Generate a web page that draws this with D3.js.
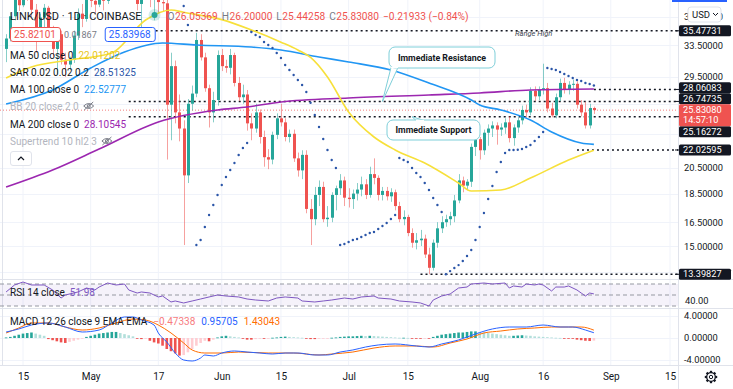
<!DOCTYPE html>
<html>
<head>
<meta charset="utf-8">
<script src="https://cdnjs.cloudflare.com/ajax/libs/d3/7.8.5/d3.min.js"></script>
<style>
  html, body { margin: 0; padding: 0; background: #fff; overflow: hidden; }
  svg { display: block; font-family: Roboto, "Noto Sans", sans-serif; }
</style>
</head>
<body>
<svg id="chart" width="733" height="389"></svg>
<script>
// LINK/USD 1D candles, first bar 2021-04-11, one bar per day
const firstBar = '2021-04-11';
const opens = [
  33.0, 34.4, 37.6, 40.8, 39.3, 43.2, 41.0, 38.6, 35.8, 37.4,
  38.9, 35.6, 33.0, 35.0, 31.6, 31.0, 31.6, 34.8, 38.0, 37.2,
  41.2, 40.0, 39.4, 44.0, 40.0, 45.5, 44.8, 46.8, 49.6, 47.0,
  46.0, 46.8, 39.5, 41.5, 44.5, 40.2, 42.0, 39.8, 39.6, 26.4,
  30.8, 25.6, 24.0, 19.9, 26.5, 27.6, 34.2, 31.9, 28.2, 25.6,
  26.9, 32.2, 30.8, 30.6, 32.2, 28.8, 27.2, 27.5, 24.5, 24.0,
  25.6, 23.2, 21.4, 21.2, 23.4, 25.0, 24.6, 23.2, 23.5, 21.3,
  20.3, 21.6, 17.4, 16.7, 18.4, 19.0, 16.7, 16.8, 18.4, 18.9,
  19.5, 18.2, 18.1, 18.5, 18.8, 19.2, 18.4, 20.0, 19.7, 18.4,
  18.7, 18.3, 18.6, 17.6, 16.7, 16.85, 15.8, 15.2, 15.35, 15.45,
  14.5, 13.75, 15.2, 16.1, 16.5, 16.7, 16.9, 18.0, 19.5, 19.1,
  19.4, 22.3, 23.0, 22.0, 23.6, 24.0, 24.3, 23.9, 24.1, 24.6,
  23.1, 24.1, 24.8, 25.85, 25.6, 27.9, 27.3, 28.0, 28.2, 26.0,
  25.3, 27.2, 28.8, 28.0, 28.6, 28.7, 26.4, 25.6, 24.3, 26.05369
];
const highs = [
  35.0, 38.2, 41.5, 42.5, 44.0, 44.5, 42.0, 39.5, 38.0, 39.5,
  39.2, 36.2, 35.8, 35.5, 32.5, 32.0, 35.5, 38.8, 39.5, 41.8,
  42.0, 41.5, 44.5, 44.5, 46.0, 48.0, 47.5, 50.5, 50.2, 52.7,
  47.5, 48.0, 43.0, 45.5, 45.0, 43.5, 42.5, 42.5, 41.0, 32.5,
  31.5, 27.5, 24.8, 27.0, 28.5, 35.2, 35.0, 32.5, 28.6, 27.8,
  32.8, 33.0, 31.6, 33.0, 32.5, 29.5, 28.6, 28.0, 25.5, 26.5,
  25.9, 23.8, 22.1, 23.7, 25.5, 26.5, 25.0, 23.9, 23.9, 21.8,
  22.0, 22.0, 18.1, 19.0, 19.5, 19.4, 17.6, 18.6, 19.1, 20.0,
  19.8, 18.9, 18.8, 19.3, 19.8, 19.6, 20.6, 21.3, 19.9, 19.0,
  19.0, 18.9, 18.8, 17.9, 17.3, 17.0, 16.1, 15.8, 16.0, 15.7,
  14.9, 15.4, 16.5, 16.9, 17.0, 17.2, 18.4, 20.0, 19.8, 19.6,
  22.6, 23.3, 23.2, 23.9, 24.4, 24.7, 24.6, 24.5, 25.0, 25.2,
  24.4, 25.1, 26.3, 26.4, 28.3, 28.4, 28.4, 31.1, 28.8, 26.6,
  27.6, 29.3, 29.4, 29.0, 29.2, 29.0, 26.9, 26.7, 26.5, 26.2
];
const lows = [
  31.3, 34.0, 37.0, 38.4, 39.0, 40.0, 37.5, 32.5, 34.5, 36.0,
  35.0, 32.0, 29.8, 31.0, 29.5, 30.3, 31.2, 34.2, 36.0, 36.8,
  39.0, 38.0, 39.0, 38.5, 39.5, 43.5, 43.0, 45.5, 45.0, 44.0,
  42.5, 38.5, 35.0, 40.5, 39.0, 37.0, 38.0, 38.4, 21.2, 22.9,
  24.5, 22.8, 15.06, 19.3, 25.8, 27.2, 31.5, 27.8, 24.1, 24.6,
  26.3, 30.2, 30.0, 29.8, 28.4, 26.8, 26.5, 23.8, 22.9, 23.6,
  22.6, 20.6, 20.4, 20.8, 23.0, 24.2, 22.8, 22.7, 21.0, 19.8,
  19.6, 17.1, 15.06, 16.3, 17.6, 16.5, 16.2, 16.5, 17.3, 18.4,
  17.6, 17.5, 17.4, 18.0, 18.3, 18.1, 18.2, 19.2, 18.0, 18.0,
  18.0, 17.9, 17.3, 16.5, 16.3, 15.6, 14.9, 14.8, 15.0, 14.3,
  13.4, 13.6, 14.9, 15.8, 16.2, 16.3, 16.5, 17.8, 18.6, 18.8,
  19.0, 21.5, 21.2, 21.6, 22.4, 23.2, 22.5, 23.3, 23.5, 22.7,
  22.4, 23.6, 24.4, 25.0, 25.3, 26.8, 26.9, 27.5, 25.6, 25.1,
  25.0, 26.8, 27.6, 27.5, 27.9, 26.0, 25.2, 24.0, 24.0, 25.44258
];
const closes = [
  34.4, 37.6, 40.8, 39.3, 43.2, 41.0, 38.6, 35.8, 37.4, 38.9,
  35.6, 33.0, 35.0, 31.6, 31.0, 31.6, 34.8, 38.0, 37.2, 41.2,
  40.0, 39.4, 44.0, 40.0, 45.5, 44.8, 46.8, 49.6, 47.0, 46.0,
  46.8, 39.5, 41.5, 44.5, 40.2, 42.0, 39.8, 39.6, 26.4, 30.8,
  25.6, 24.0, 19.9, 26.5, 27.6, 34.2, 31.9, 28.2, 25.6, 26.9,
  32.2, 30.8, 30.6, 32.2, 28.8, 27.2, 27.5, 24.5, 24.0, 25.6,
  23.2, 21.4, 21.2, 23.4, 25.0, 24.6, 23.2, 23.5, 21.3, 20.3,
  21.6, 17.4, 16.7, 18.4, 19.0, 16.7, 16.8, 18.4, 18.9, 19.5,
  18.2, 18.1, 18.5, 18.8, 19.2, 18.4, 20.0, 19.7, 18.4, 18.7,
  18.3, 18.6, 17.6, 16.7, 16.85, 15.8, 15.2, 15.35, 15.45, 14.5,
  13.75, 15.2, 16.1, 16.5, 16.7, 16.9, 18.0, 19.5, 19.1, 19.4,
  22.3, 23.0, 22.0, 23.6, 24.0, 24.3, 23.9, 24.1, 24.6, 23.1,
  24.1, 24.8, 25.85, 25.6, 27.9, 27.3, 28.0, 28.2, 26.0, 25.3,
  27.2, 28.8, 28.0, 28.6, 28.7, 26.4, 25.6, 24.3, 26.05013, 25.8308
];

// moving averages: bar index -> value
const ma50Idx = [0, 6, 15, 25, 33, 39, 42, 51, 58, 65, 69, 72, 76, 81, 87, 92, 99, 107, 110, 117, 124, 133, 139];
const ma50Val = [29.38, 30.7, 31.57, 32.47, 37.05, 38.56, 38.2, 37.1, 35.6, 33.9, 32.86, 31.9, 29.5, 25.64, 23.2, 22.03, 20.91, 19.3, 18.69, 18.77, 19.69, 21.16, 22.01202];
const ma100Idx = [0, 11, 20, 28, 37, 45, 58, 65, 74, 81, 91, 100, 110, 112, 117, 124, 129, 136, 139];
const ma100Val = [26.48, 28.0, 30.58, 32.6, 33.79, 33.52, 33.25, 32.86, 31.95, 31.32, 30.33, 28.79, 26.9, 26.37, 25.85, 24.83, 23.67, 22.65, 22.52777];
const ma200Idx = [0, 11, 22, 36, 50, 57, 65, 81, 100, 112, 124, 139];
const ma200Val = [18.99, 20.33, 22.11, 24.64, 25.85, 26.16, 26.69, 27.12, 27.45, 27.67, 28.0, 28.10545];

// parabolic SAR, from bar 42 (2021-05-23) to the last bar
const sarFrom = 42;
const sarVal = [
  39.18, 36.31, null, 15.06, 15.37, 16.19, 16.98, 17.68, 18.4, 19.15,
  19.77, 20.33, 20.91, 21.59, 22.2, 22.65, 35.31, 34.89, 34.61, 33.93,
  33.52, 33.12, 32.47, 31.82, 30.95, 30.33, 29.73, 29.14, 28.57, 27.78,
  26.6, 25.34, 24.15, 23.02, 22.03, 21.16, 20.5, 15.06, 15.12, 15.24,
  15.37, 15.43, 15.55, 15.68, 15.8, 15.87, 16.06, 16.25, 16.45, 16.71,
  16.98, 21.33, 21.16, 20.99, 20.5, 20.09, 19.77, 19.3, 18.77, 18.18,
  17.68, 17.19, 13.4, 13.57, 13.74, 13.9, 14.13, 14.41, 14.76, 15.37,
  16.19, 17.12, 18.11, 19.07, 20.17, 20.99, 21.76, 22.03, 22.03, 22.05,
  22.11, 22.29, 22.47, 22.83, 23.2, 23.67, 30.58, 30.45, 30.33, 30.09,
  29.85, 29.61, 29.38, 29.14, 29.03, 28.79, 28.68, 28.51325
];

// RSI 14
const rsiIdx = [0, 2, 4, 6, 9, 11, 13, 14, 17, 19, 21, 22, 24, 26, 28, 29, 31, 32, 34, 36,
  37, 39, 40, 42, 44, 46, 48, 50, 52, 55, 57, 59, 62, 64, 66, 69, 70, 73, 75, 77,
  80, 82, 84, 87, 88, 91, 93, 96, 98, 100, 101, 103, 105, 107, 109, 110, 113, 115, 118, 119,
  120, 122, 123, 125, 126, 127, 129, 130, 132, 133, 135, 136, 137, 138, 139];
const rsiVal = [55.5, 68.2, 73.6, 68.2, 68.2, 59.1, 44.5, 50, 55.5, 62.7, 59.1, 64.5, 71.8, 68.2, 70, 59.1, 53.6, 55.5, 53.6, 46.4,
  48.2, 37.3, 39.1, 35.5, 39.1, 42.7, 46.4, 50, 48.2, 46.4, 42.7, 40.9, 39.1, 44.5, 46.4, 44.5, 39.1, 37.3, 39.1, 40.9,
  44.5, 42.7, 46.4, 48.2, 44.5, 42.7, 39.1, 37.3, 35.5, 30, 40.9, 48.2, 51.8, 62.7, 64.5, 70, 71.8, 70, 71.8, 62.7,
  66.4, 64.5, 70, 68.2, 70, 68.2, 57.3, 64.5, 64.5, 66.4, 59.1, 53.6, 48.2, 53.6, 51.98];

// MACD 12 26 9
const macdIdx = [0, 3, 6, 10, 14, 18, 22, 25, 28, 30, 32, 35, 36, 38, 40, 42, 44, 46, 47, 49, 51, 54, 57, 60, 63, 66, 69,
  73, 76, 79, 82, 85, 88, 92, 97, 100, 103, 107, 111, 115, 119, 123, 127, 131, 134, 137, 139];
const macdVal = [1.09, 1.64, 2.36, 2.73, 2.0, 1.09, 1.45, 2.73, 3.82, 3.82, 3.27, 2.36, 0.91, -0.73, -2.73, -4.0, -4.18, -3.64, -3.09, -3.27, -2.73, -2.36, -2.55, -2.73, -2.91, -2.73, -2.73,
  -3.09, -3.09, -2.55, -2.18, -1.64, -1.27, -1.09, -1.45, -1.64, -1.09, -0.36, 0.73, 1.64, 2.0, 2.0, 2.36, 2.0, 2.0, 1.45, 0.95705];
const signalIdx = [0, 3, 6, 10, 14, 18, 22, 26, 30, 33, 36, 39, 42, 44, 47, 51, 55, 62, 68, 74, 77, 82, 87, 92, 97, 101, 105,
  109, 113, 117, 121, 125, 129, 133, 136, 139];
const signalVal = [0.91, 1.82, 2.73, 2.73, 2.0, 1.45, 1.82, 2.73, 3.45, 3.27, 2.36, 0.91, -0.91, -2.18, -2.73, -2.73, -2.55, -2.73, -2.73, -3.09, -2.91, -2.55, -1.82, -1.45, -1.45, -1.64, -0.91,
  -0.18, 0.91, 1.27, 1.64, 1.82, 2.0, 2.0, 2.0, 1.43043];
const histVal = [
  0.1, 0.2, 0.4, 0.6, 0.8, 0.9, 1.0, 0.8, 0.6, 0.4,
  -0.2, -0.4, -0.6, -0.8, -0.9, -0.7, -0.5, -0.3, -0.1, 0.2,
  0.4, 0.6, 0.8, 0.9, 1.0, 1.1, 1.1, 0.9, 0.7, 0.5,
  0.3, -0.1, -0.2, -0.15, -0.5, -0.8, -1.0, -1.4, -2.0, -2.4,
  -2.8, -3.2, -3.1, -2.6, -2.0, -1.4, -0.9, -0.5, -0.6, -0.3,
  0.1, 0.3, 0.4, 0.3, 0.2, 0.1, -0.1, -0.3, -0.3, -0.2,
  -0.1, -0.15, -0.1, 0.05, 0.1, 0.2, 0.25, 0.2, 0.15, 0.1,
  0.05, -0.1, -0.2, -0.2, -0.15, -0.1, -0.05, 0.05, 0.1, 0.2,
  0.25, 0.3, 0.3, 0.35, 0.4, 0.35, 0.4, 0.35, 0.3, 0.25,
  0.2, 0.15, 0.1, 0.05, 0.05, 0.02, -0.05, -0.1, -0.1, -0.05,
  -0.05, 0.2, 0.4, 0.6, 0.7, 0.8, 0.9, 1.0, 1.0, 1.1,
  1.2, 1.2, 1.1, 1.0, 0.9, 0.8, 0.7, 0.6, 0.5, 0.4,
  0.4, 0.45, 0.5, 0.45, 0.4, 0.3, 0.25, 0.2, 0.15, 0.1,
  0.05, 0.02, -0.05, -0.05, -0.1, -0.3, -0.4, -0.5, -0.55, -0.47338
];

// horizontal levels drawn on the chart
const levelPrices = [35.47731, 28.06083, 26.74735, 25.16272, 22.02595, 13.39827];
const levelStarts = ['2021-05-14', '2021-08-28', '2021-05-10', '2021-05-10', '2021-08-24', '2021-07-18'];

// axes
const priceTicks = [37.5, 33.5, 29.5, 26.5, 23.5, 20.5, 18.5, 16.5, 15, 13.5];
const macdTicks = [4, 0, -4];
const rsiTicks = [40];
const xTickDates = ['2021-04-15', '2021-05-01', '2021-05-17', '2021-06-01', '2021-06-15', '2021-07-01',
  '2021-07-15', '2021-08-01', '2021-08-16', '2021-09-01', '2021-09-15'];
const xTickLabels = ['15', 'May', '17', 'Jun', '15', 'Jul', '15', 'Aug', '16', 'Sep', '15'];

const bidPrice = '25.82101', spread = '0.01867', askPrice = '25.83968';
const countdown = '14:57:10';

// ---------- layout ----------
const plotRight = 678;
const mainBottom = 279;
const rsiTop = 280, rsiBottom = 308;
const macdTop = 309, macdBottom = 365;

const up = '#26a69a', down = '#ef5350';
const ink = '#131722';

const parse = d3.utcParse('%Y-%m-%d');
const t0 = parse(firstBar);
const barDate = i => d3.utcDay.offset(t0, i);

const x = d3.scaleUtc().domain([parse('2021-04-15'), parse('2021-09-15')]).range([23, 670]);
const y = d3.scaleLog().domain([13.147, 40.13]).range([mainBottom, 0]);
const yRsi = d3.scaleLinear().domain([30, 70]).range([306, 284]);
const yMacd = d3.scaleLinear().domain([-4, 4]).range([360, 316]);

const candles = closes.map((c, i) => ({ date: barDate(i), o: opens[i], h: highs[i], l: lows[i], c }));
const last = candles[candles.length - 1];

const svg = d3.select('#chart');
const defs = svg.append('defs');
const clip = (id, yy, h) => defs.append('clipPath').attr('id', id)
  .append('rect').attr('x', 0).attr('y', yy).attr('width', plotRight).attr('height', h);
clip('cMain', 0, mainBottom);
clip('cRsi', rsiTop, rsiBottom - rsiTop);
clip('cMacd', macdTop, macdBottom - macdTop);

// grid
const grid = svg.append('g');
grid.selectAll('line.gv').data(xTickDates.map(parse)).join('line').attr('class', 'gv')
  .attr('x1', d => x(d)).attr('x2', d => x(d)).attr('y1', 0).attr('y2', macdBottom)
  .attr('stroke', '#f0f3fa');
grid.selectAll('line.gh').data(priceTicks).join('line').attr('class', 'gh')
  .attr('x1', 0).attr('x2', plotRight).attr('y1', d => Math.round(y(d)) + 0.5).attr('y2', d => Math.round(y(d)) + 0.5)
  .attr('stroke', '#f0f3fa');
grid.selectAll('line.gm').data(macdTicks).join('line').attr('class', 'gm')
  .attr('x1', 0).attr('x2', plotRight).attr('y1', d => Math.round(yMacd(d)) + 0.5).attr('y2', d => Math.round(yMacd(d)) + 0.5)
  .attr('stroke', '#f0f3fa');

// pane borders
const borders = svg.append('g').attr('stroke', '#e0e3eb');
[mainBottom, rsiBottom, macdBottom].forEach(v =>
  borders.append('line').attr('x1', 0).attr('x2', 733).attr('y1', v + 0.5).attr('y2', v + 0.5));
borders.append('line').attr('x1', plotRight + 0.5).attr('x2', plotRight + 0.5).attr('y1', 0).attr('y2', 389);
borders.append('line').attr('x1', 2.5).attr('x2', 2.5).attr('y1', 0).attr('y2', macdBottom);

// ---------- main pane ----------
const main = svg.append('g').attr('clip-path', 'url(#cMain)');

// levels (dotted)
main.selectAll('line.lvl').data(levelPrices).join('line').attr('class', 'lvl')
  .attr('x1', (d, i) => x(parse(levelStarts[i]))).attr('x2', plotRight)
  .attr('y1', d => y(d)).attr('y2', d => y(d))
  .attr('stroke', ink).attr('stroke-width', 1.6).attr('stroke-dasharray', '2 3');

// current price line
main.append('line').attr('x1', 0).attr('x2', plotRight)
  .attr('y1', y(last.c)).attr('y2', y(last.c))
  .attr('stroke', down).attr('stroke-opacity', 0.75).attr('stroke-dasharray', '1 2');

// candles
const cg = main.append('g');
cg.selectAll('line.wick').data(candles).join('line').attr('class', 'wick')
  .attr('x1', d => Math.round(x(d.date)) + 0.5).attr('x2', d => Math.round(x(d.date)) + 0.5)
  .attr('y1', d => y(d.h)).attr('y2', d => y(d.l))
  .attr('stroke', d => d.c >= d.o ? up : down).attr('stroke-opacity', 0.55);
cg.selectAll('rect.body').data(candles).join('rect').attr('class', 'body')
  .attr('x', d => Math.round(x(d.date)) - 1).attr('width', 3)
  .attr('y', d => y(Math.max(d.o, d.c)))
  .attr('height', d => Math.max(1, Math.abs(y(d.o) - y(d.c))))
  .attr('fill', d => d.c >= d.o ? up : down);

// moving averages
const maLine = d3.line().x(d => x(d[0])).y(d => y(d[1])).curve(d3.curveMonotoneX);
const series = (idx, val) => idx.map((k, i) => [barDate(k), val[i]]);
[[ma200Idx, ma200Val, '#9c27b0'], [ma100Idx, ma100Val, '#2196f3'], [ma50Idx, ma50Val, '#f7e03a']]
  .forEach(([idx, val, col]) => main.append('path').datum(series(idx, val)).attr('d', maLine)
    .attr('fill', 'none').attr('stroke', col).attr('stroke-width', 1.6));

// SAR dots
const sarPts = sarVal.map((v, i) => ({ date: barDate(sarFrom + i), v })).filter(d => d.v != null);
main.selectAll('circle.sar').data(sarPts).join('circle').attr('class', 'sar')
  .attr('cx', d => x(d.date)).attr('cy', d => y(d.v)).attr('r', 1.2).attr('fill', '#2a55a8');

// Range High label
main.append('text').attr('x', 515).attr('y', 36).attr('font-size', 7.5).attr('font-style', 'italic')
  .attr('fill', '#434651').text('Range High');

// callouts
function callout(box, tail, label) {
  const g = main.append('g');
  g.append('path').attr('d', d3.line()(tail) + 'Z').attr('fill', '#fff').attr('stroke', '#7fcfd9');
  g.append('rect').attr('x', box[0]).attr('y', box[1]).attr('width', box[2]).attr('height', box[3]).attr('rx', 6)
    .attr('fill', '#fff').attr('stroke', '#7fcfd9');
  g.append('path').attr('d', d3.line()(tail.slice(0, 2))).attr('stroke', '#fff').attr('stroke-width', 1.5);
  g.append('text').attr('x', box[0] + box[2] / 2).attr('y', box[1] + box[3] / 2 + 3.2)
    .attr('text-anchor', 'middle').attr('font-size', 8.8).attr('font-weight', 'bold').attr('fill', ink).text(label);
}
const rTip = [x(parse('2021-07-09')), y(26.74735)];
callout([389, 47, 106, 21], [[391, 67.5], [398, 67.5], rTip], 'Immediate Resistance');
const sTip = [x(parse('2021-07-16')), y(25.16272)];
callout([387, 120, 93, 20], [[424, 120.5], [416, 120.5], sTip], 'Immediate Support');

// ---------- RSI pane ----------
const rsiG = svg.append('g').attr('clip-path', 'url(#cRsi)');
rsiG.append('rect').attr('x', 0).attr('width', plotRight).attr('y', yRsi(70)).attr('height', yRsi(30) - yRsi(70))
  .attr('fill', '#7e57c2').attr('fill-opacity', 0.08);
[70, 50, 30].forEach(v => rsiG.append('line').attr('x1', 0).attr('x2', plotRight)
  .attr('y1', yRsi(v)).attr('y2', yRsi(v)).attr('stroke', '#9598a1').attr('stroke-dasharray', '4 3'));
rsiG.append('path').datum(rsiIdx.map((k, i) => [barDate(k), rsiVal[i]]))
  .attr('d', d3.line().x(d => x(d[0])).y(d => yRsi(d[1])))
  .attr('fill', 'none').attr('stroke', '#7e57c2').attr('stroke-width', 1);

// ---------- MACD pane ----------
const macdG = svg.append('g').attr('clip-path', 'url(#cMacd)');
const histColor = (v, i) => {
  const prev = i > 0 ? histVal[i - 1] : v;
  if (v >= 0) return v >= prev ? '#26a69a' : '#b2dfdb';
  return v <= prev ? '#ef5350' : '#ffcdd2';
};
macdG.selectAll('rect.h').data(histVal).join('rect').attr('class', 'h')
  .attr('x', (d, i) => x(barDate(i)) - 1.3).attr('width', 2.6)
  .attr('y', d => Math.min(yMacd(d), yMacd(0))).attr('height', d => Math.max(0.8, Math.abs(yMacd(d) - yMacd(0))))
  .attr('fill', histColor);
const mLine = d3.line().x(d => x(d[0])).y(d => yMacd(d[1])).curve(d3.curveMonotoneX);
macdG.append('path').datum(series(signalIdx, signalVal)).attr('d', mLine)
  .attr('fill', 'none').attr('stroke', '#ff6d00').attr('stroke-width', 1);
macdG.append('path').datum(series(macdIdx, macdVal)).attr('d', mLine)
  .attr('fill', 'none').attr('stroke', '#2962ff').attr('stroke-width', 1);

// ---------- price labels: positions pushed apart around the live price box ----------
const fmt5 = d3.format('.5f');
const boxH = 11;
const liveTop = y(last.c) - 6, liveBottom = liveTop + 22;
const lbl = levelPrices.map(p => ({ p, cy: y(p) })).sort((a, b) => a.cy - b.cy);
let ceiling = liveTop;
lbl.filter(d => d.cy < liveTop + 6).reverse().forEach(d => { d.cy = Math.min(d.cy, ceiling - boxH / 2); ceiling = d.cy - boxH / 2; });
let floor = liveBottom;
lbl.filter(d => d.cy >= liveTop + 6).forEach(d => { d.cy = Math.max(d.cy, floor + boxH / 2); floor = d.cy + boxH / 2; });
const boxes = lbl.map(d => [d.cy - boxH / 2, d.cy + boxH / 2]).concat([[liveTop, liveBottom]]);
const covered = v => boxes.some(([a, b]) => v > a - 2 && v < b + 2);

// ---------- axes ----------
const axisStyle = g => {
  g.select('.domain').remove();
  g.selectAll('text').attr('fill', ink).attr('font-size', 9.3).attr('font-family', 'Roboto, sans-serif').attr('text-anchor', 'start');
};
svg.append('g').attr('transform', `translate(${plotRight},0)`)
  .call(d3.axisRight(y).tickValues(priceTicks.filter(v => !covered(y(v)))).tickFormat(fmt5).tickSize(0).tickPadding(6))
  .call(axisStyle);
svg.append('g').attr('transform', `translate(${plotRight},0)`)
  .call(d3.axisRight(yRsi).tickValues(rsiTicks).tickFormat(d3.format('.2f')).tickSize(0).tickPadding(7))
  .call(axisStyle);
svg.append('g').attr('transform', `translate(${plotRight},0)`)
  .call(d3.axisRight(yMacd).tickValues(macdTicks).tickFormat(v => (v < 0 ? '-' : '') + fmt5(Math.abs(v))).tickSize(0).tickPadding(6))
  .call(axisStyle);
svg.append('g').attr('transform', `translate(0,${macdBottom})`)
  .call(d3.axisBottom(x).tickValues(xTickDates.map(parse)).tickFormat((d, i) => xTickLabels[i]).tickSize(0).tickPadding(8))
  .call(g => {
    g.select('.domain').remove();
    g.selectAll('text').attr('fill', ink).attr('font-size', 10).attr('font-family', 'Roboto, sans-serif');
  });

const lg = svg.append('g');
lbl.forEach(d => {
  lg.append('line').attr('x1', plotRight - 3).attr('x2', plotRight + 1).attr('y1', y(d.p)).attr('y2', y(d.p)).attr('stroke', ink);
  lg.append('rect').attr('x', plotRight + 1).attr('y', d.cy - boxH / 2).attr('width', 52).attr('height', boxH).attr('rx', 1.5).attr('fill', ink);
  lg.append('text').attr('x', plotRight + 5).attr('y', d.cy + 3.2).attr('font-size', 9.2).attr('fill', '#fff').text(fmt5(d.p));
});
lg.append('rect').attr('x', plotRight + 1).attr('y', liveTop).attr('width', 52).attr('height', liveBottom - liveTop).attr('rx', 1.5).attr('fill', down);
lg.append('text').attr('x', plotRight + 5).attr('y', liveTop + 9.3).attr('font-size', 9.2).attr('fill', '#fff').text(fmt5(last.c));
lg.append('text').attr('x', plotRight + 5).attr('y', liveTop + 19.3).attr('font-size', 9.2).attr('fill', '#fff').text(countdown);

// currency button + top bar
svg.append('rect').attr('x', 672).attr('y', 0).attr('width', 55).attr('height', 2).attr('fill', '#2962ff');
svg.append('rect').attr('x', 688).attr('y', 7).attr('width', 33).attr('height', 15).attr('rx', 3)
  .attr('fill', '#fff').attr('stroke', '#e0e3eb');
svg.append('text').attr('x', 692).attr('y', 18).attr('font-size', 9.5).attr('fill', ink).text('USD');
svg.append('path').attr('d', 'M713,13 l2.5,2.5 l2.5,-2.5').attr('fill', 'none').attr('stroke', ink).attr('stroke-width', 1);

// gear
const gear = svg.append('g').attr('transform', 'translate(711,377)');
d3.range(8).forEach(k => gear.append('rect').attr('x', -1.1).attr('y', -6.2).attr('width', 2.2).attr('height', 3)
  .attr('transform', `rotate(${k * 45})`).attr('fill', ink));
gear.append('circle').attr('r', 4.3).attr('fill', '#fff').attr('stroke', ink).attr('stroke-width', 1.3);
gear.append('circle').attr('r', 1.7).attr('fill', '#fff').attr('stroke', ink).attr('stroke-width', 1);

// ---------- legends ----------
const leg = svg.append('g').attr('font-size', 10);
function legendLine(yBase, parts, x0 = 10) {
  let cx = x0;
  parts.forEach(p => {
    const t = leg.append('text').attr('x', cx).attr('y', yBase).attr('fill', p[1]).text(p[0]);
    if (p[2]) t.attr('font-size', p[2]);
    cx += t.node().getComputedTextLength() + (p[3] != null ? p[3] : 5);
  });
  return cx;
}
function eye(cx, cy) {
  const g = leg.append('g').attr('transform', `translate(${cx},${cy})`).attr('stroke', '#787b86').attr('fill', 'none');
  g.append('path').attr('d', 'M-5,0 Q0,-5 5,0 Q0,5 -5,0 Z');
  g.append('circle').attr('r', 1.5);
  g.append('line').attr('x1', -4.5).attr('y1', 4).attr('x2', 4.5).attr('y2', -4);
}

// header
const hx = legendLine(19.5, [['LINK/USD · 1D · COINBASE', ink, 11, 8]]);
leg.append('circle').attr('cx', hx + 5).attr('cy', 15).attr('r', 6).attr('fill', up).attr('fill-opacity', 0.2);
leg.append('circle').attr('cx', hx + 5).attr('cy', 15).attr('r', 3).attr('fill', up);
const prevClose = candles[candles.length - 2].c;
const chg = last.c - prevClose;
legendLine(19.5, [
  ['O', '#787b86', 10.2, 0.5], [fmt5(last.o), down, 10.2, 4],
  ['H', '#787b86', 10.2, 0.5], [fmt5(last.h), down, 10.2, 4],
  ['L', '#787b86', 10.2, 0.5], [fmt5(last.l), down, 10.2, 4],
  ['C', '#787b86', 10.2, 0.5], [fmt5(last.c), down, 10.2, 4],
  [`${fmt5(chg)} (${d3.format('.2f')(chg / prevClose * 100)}%)`, down, 10.2]
], hx + 18);

// bid / ask boxes
function priceBox(bx, txt, col) {
  const t = leg.append('text').attr('x', bx + 4).attr('y', 38).attr('fill', col).text(txt);
  const w = t.node().getComputedTextLength() + 8;
  leg.insert('rect', 'text').attr('x', bx + 0.5).attr('y', 27.5).attr('width', w).attr('height', 14).attr('rx', 2.5)
    .attr('fill', '#fff').attr('stroke', col);
  return bx + w;
}
const bEnd = priceBox(10, bidPrice, down);
const sp = leg.append('text').attr('x', bEnd + 4).attr('y', 38).attr('fill', '#787b86').attr('font-size', 9).text(spread);
priceBox(bEnd + 8 + sp.node().getComputedTextLength() + 4, askPrice, '#2962ff');

legendLine(58.5, [['MA 50 close 0', ink], [fmt5(ma50Val[ma50Val.length - 1]), '#e8c51a']]);
legendLine(75.5, [['SAR 0.02 0.02 0.2', ink], [fmt5(sarVal[sarVal.length - 1]), '#2a55a8']]);
legendLine(92.5, [['MA 100 close 0', ink], [fmt5(ma100Val[ma100Val.length - 1]), '#2196f3']]);
const bbEnd = legendLine(109.5, [['BB 20 close 2 0', '#b2b5be']]);
eye(bbEnd + 5, 106);
legendLine(127.5, [['MA 200 close 0', ink], [fmt5(ma200Val[ma200Val.length - 1]), '#9c27b0']]);
const stEnd = legendLine(144.5, [['Supertrend 10 hl2 3', '#b2b5be']]);
eye(stEnd + 5, 141);
leg.append('rect').attr('x', 10.5).attr('y', 151.5).attr('width', 21).attr('height', 14).attr('rx', 2.5)
  .attr('fill', '#fff').attr('stroke', '#e0e3eb');
leg.append('path').attr('d', 'M18,160 l3,-3 l3,3').attr('fill', 'none').attr('stroke', ink).attr('stroke-width', 1.2);

legendLine(295.5, [['RSI 14 close', ink], [d3.format('.2f')(rsiVal[rsiVal.length - 1]), '#7e57c2']]);
legendLine(324.5, [['MACD 12 26 close 9 EMA EMA', ink, null, 6],
  [fmt5(histVal[histVal.length - 1]), '#f77c80', null, 6],
  [fmt5(macdVal[macdVal.length - 1]), '#2962ff', null, 6],
  [fmt5(signalVal[signalVal.length - 1]), '#ff6d00']]);
</script>
</body>
</html>
